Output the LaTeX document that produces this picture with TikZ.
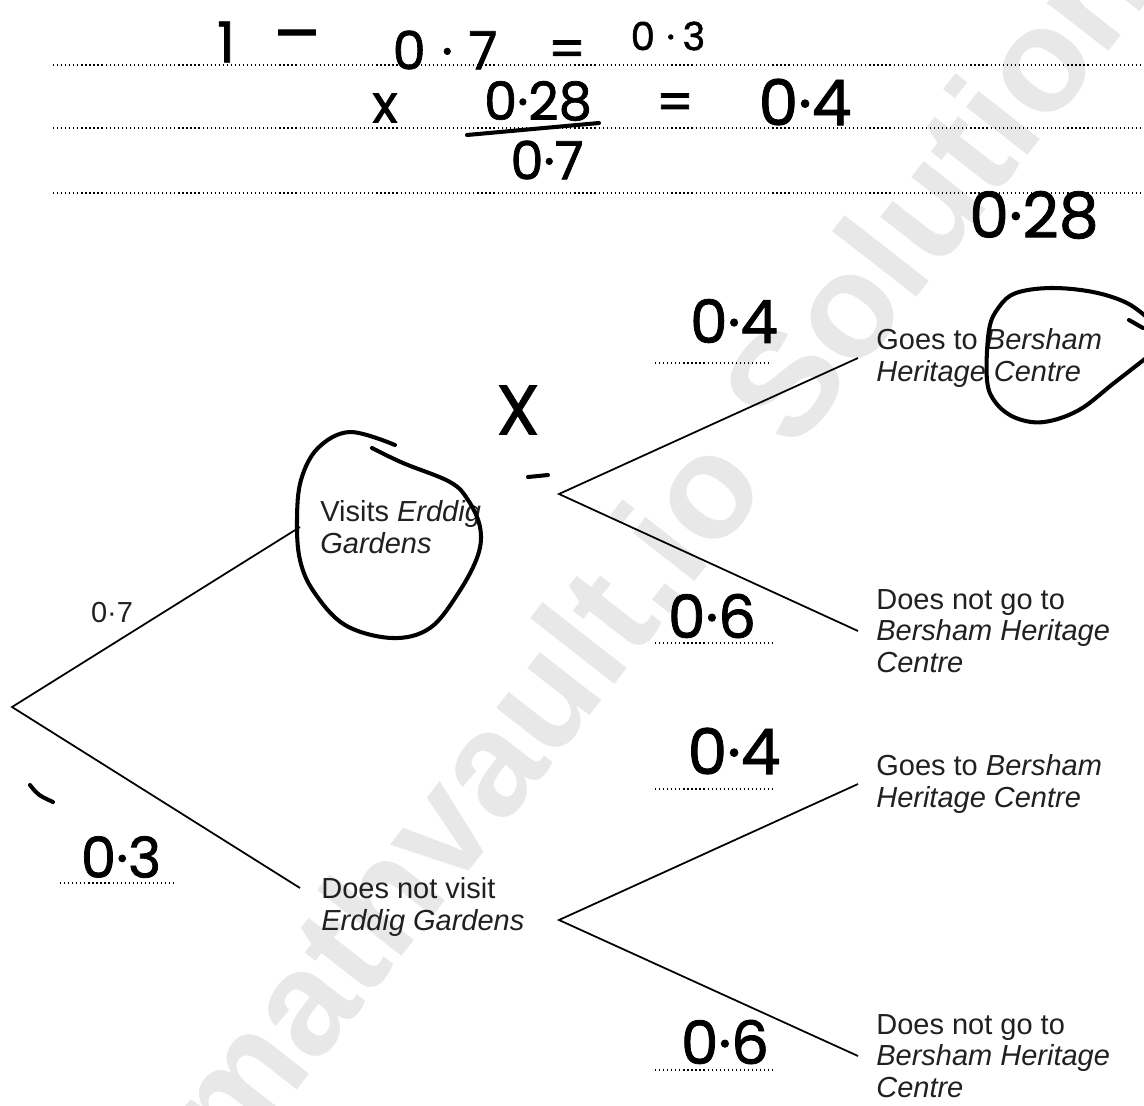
\documentclass[tikz,border=0pt]{standalone}
\usepackage{fontspec}
\setmainfont{Liberation Sans}
\newfontfamily\handfont{Poppins}[FakeBold=1.3]
\usetikzlibrary{positioning}
\definecolor{printink}{HTML}{231F20}
\definecolor{wmark}{gray}{0.91}
\tikzset{
  branch/.style={draw=black, line width=1pt},
  outcome/.style={font=\fontsize{16.5}{17.9}\selectfont, text=printink, align=left, inner sep=0pt},
  hand/.style={font=\handfont\fontsize{#1}{#1}\selectfont, inner sep=0pt},
  ink/.style={draw=black, line width=2.3pt, line cap=round, line join=round},
  answerline/.style={draw=black, line width=0.7pt, dash pattern=on 0.7pt off 1.6pt},
}

\begin{document}
\begin{tikzpicture}[x=0.02cm, y=-0.02cm]
  \useasboundingbox (0,0) rectangle (1144,1106);
  % watermark
  \node[rotate=52, text=wmark, font=\bfseries\fontsize{84}{84}\selectfont] (wm) at (680,515) {mathvault.io Solutions};

  % answer lines at the top
  \foreach \y in {65,128,193}
    \draw[answerline] (53,\y) -- (1144,\y);

  % tree
  \coordinate (root) at (12,707);
  \coordinate (visitEnd) at (300,527);
  \coordinate (notEnd) at (300,888);
  \coordinate (forkA) at (559,494);
  \coordinate (forkB) at (559,920);
  \coordinate (aGo) at (858,358);
  \coordinate (aNo) at (858,631);
  \coordinate (bGo) at (858,784);
  \coordinate (bNo) at (858,1056);

  \node[outcome, right=0.4cm of visitEnd] (visits) {Visits \textit{Erddig}\\\textit{Gardens}};
  \node[outcome, anchor=base west] (novisit) at ([xshift=0.42cm, yshift=-0.84cm]notEnd) {Does not visit\\\textit{Erddig Gardens}};
  \node[outcome, right=0.36cm of aGo] (aGoTxt) {Goes to \textit{Bersham}\\\textit{Heritage Centre}};
  \node[outcome, right=0.36cm of aNo] (aNoTxt) {Does not go to\\\textit{Bersham Heritage}\\\textit{Centre}};
  \node[outcome, right=0.36cm of bGo] (bGoTxt) {Goes to \textit{Bersham}\\\textit{Heritage Centre}};
  \node[outcome, right=0.36cm of bNo] (bNoTxt) {Does not go to\\\textit{Bersham Heritage}\\\textit{Centre}};
  \node[outcome] (pVisit) at (112,613) {0·7};

  \draw[branch] (visitEnd) -- (root) -- (notEnd);
  \draw[branch] (aGo) -- (forkA) -- (aNo);
  \draw[branch] (bGo) -- (forkB) -- (bNo);

  % dotted answer lines on the branches
  \draw[answerline] (655,363) -- (772,363);
  \draw[answerline] (655,643) -- (773,643);
  \draw[answerline] (655,789) -- (773,789);
  \draw[answerline] (655,1070) -- (773,1070);
  \draw[answerline] (60,883) -- (177,883);

  % handwritten working
  \node[hand=32] (eqOne) at (226,42) {1};
  \node[hand=40] (eqMinus) at (297,44) {–};
  \node[hand=30] (eqSeven) at (445,50) {0\hspace{0.3em}·\hspace{0.3em}7};
  \node[hand=30] (eqEq) at (567,54) {=};
  \node[hand=22] (eqRes) at (668,36) {0\hspace{0.3em}·\hspace{0.2em}3};
  \node[hand=30] (eqX) at (385,108) {x};
  \node[hand=30] (eqNum) at (538,101) {0·28};
  \draw[ink] (467,135) -- (599,123);
  \node[hand=30] (eqDen) at (547,160) {0·7};
  \node[hand=30] (eqEq2) at (675,107) {=};
  \node[hand=36] (eqAns) at (805,102) {0·4};
  \node[hand=36] (given) at (1034,215) {0·28};

  % handwritten probabilities
  \node[hand=34] (pAGo) at (734,321) {0·4};
  \node[hand=34] (pANo) at (712,616) {0·6};
  \node[hand=36] (pBGo) at (734,751) {0·4};
  \node[hand=34] (pBNo) at (725,1042) {0·6};
  \node[hand=32] (pNot) at (121,857) {0·3};
  \node[hand=40] (cross) at (518,410) {X};

  % marks and loops
  \draw[ink] (528,477) -- (548,475);
  \draw[ink] (30,785) .. controls (38,795) .. (53,802);
  \draw[ink] plot[smooth, tension=0.6] coordinates {(395,445) (350,432) (318,448) (301,480) (297,520) (300,560) (314,592) (345,625) (392,638) (430,628) (459,592) (478,555) (480,527) (468,500) (450,482) (403,463) (372,448)};
  \draw[ink] plot[smooth, tension=0.6] coordinates {(1150,320) (1127,303) (1093,292) (1051,288) (1016,293) (999,307) (989,330) (987,380) (996,403) (1016,418) (1044,422) (1079,410) (1114,383) (1150,355)};
  \draw[ink] (1129,320) -- (1143,328);
\end{tikzpicture}
\end{document}
